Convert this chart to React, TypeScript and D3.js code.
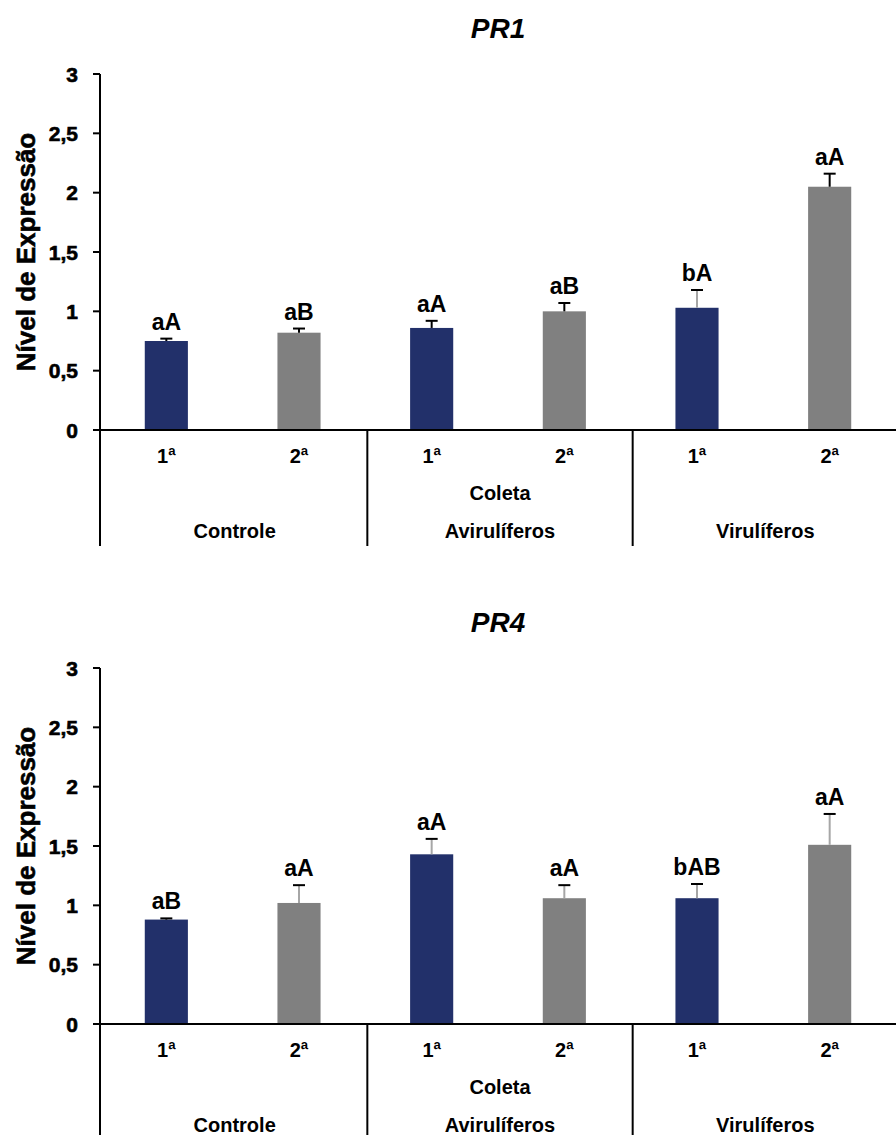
import React from "react";
import * as d3 from "d3";

const categories = ["1ª", "2ª", "1ª", "2ª", "1ª", "2ª"];
const groups = ["Controle", "Avirulíferos", "Virulíferos"];
const axisTitleX = "Coleta";
const axisTitleY = "Nível de Expressão";
const yTicks = [0, 0.5, 1, 1.5, 2, 2.5, 3];

const pr1Values = [0.75, 0.82, 0.86, 1.0, 1.03, 2.05];
const pr1Errors = [0.02, 0.035, 0.06, 0.07, 0.15, 0.11];
const pr1Labels = ["aA", "aB", "aA", "aB", "bA", "aA"];

const pr4Values = [0.88, 1.02, 1.43, 1.06, 1.06, 1.51];
const pr4Errors = [0.01, 0.15, 0.13, 0.11, 0.12, 0.26];
const pr4Labels = ["aB", "aA", "aA", "aA", "bAB", "aA"];

const barColors = ["#22306a", "#808080"];
const pr1StemColors = ["#000", "#000", "#000", "#000", "#a6a6a6", "#000"];
const pr4StemColors = ["#000", "#a6a6a6", "#a6a6a6", "#a6a6a6", "#a6a6a6", "#a6a6a6"];

const FONT = "'Liberation Sans', Arial, sans-serif";

type PanelProps = {
  title: string;
  values: number[];
  errors: number[];
  labels: string[];
  stemColors: string[];
  dy: number;
};

function Panel({ title, values, errors, labels, stemColors, dy }: PanelProps) {
  const x0 = 100;
  const x1 = 896;
  const yBase = 430;
  const yTop = 74;
  const y = d3.scaleLinear().domain([0, 3]).range([yBase, yTop]);
  const idx = categories.map((_, i) => String(i));
  const x = d3
    .scaleBand<string>()
    .domain(idx)
    .range([x0, x1])
    .paddingInner(0.675)
    .paddingOuter(0.3375);
  const gx = d3.scaleBand<string>().domain(groups).range([x0, x1]);
  const bottom = 546;

  return (
    <g transform={`translate(0,${dy})`} fontFamily={FONT} fontWeight="bold">
      <text x={498} y={38} textAnchor="middle" fontSize={28} fontStyle="italic">
        {title}
      </text>
      {values.map((v, i) => (
        <rect
          key={"b" + i}
          x={x(String(i))}
          y={y(v)}
          width={x.bandwidth()}
          height={yBase - y(v)}
          fill={barColors[i % 2]}
        />
      ))}
      {values.map((v, i) => {
        const cx = (x(String(i)) as number) + x.bandwidth() / 2;
        return (
          <g key={"e" + i}>
            <line x1={cx} x2={cx} y1={y(v)} y2={y(v + errors[i])} stroke={stemColors[i]} strokeWidth={2} />
            <line x1={cx - 6} x2={cx + 6} y1={y(v + errors[i])} y2={y(v + errors[i])} stroke="#000" strokeWidth={2} />
          </g>
        );
      })}
      {values.map((v, i) => {
        const cx = (x(String(i)) as number) + x.bandwidth() / 2;
        return (
          <text key={"l" + i} x={cx} y={y(v + errors[i]) - 9} textAnchor="middle" fontSize={23}>
            {labels[i]}
          </text>
        );
      })}
      <line x1={x0} x2={x0} y1={yTop} y2={bottom} stroke="#000" strokeWidth={2} />
      {yTicks.map((t) => (
        <g key={"t" + t}>
          <line x1={x0 - 7} x2={x0} y1={y(t)} y2={y(t)} stroke="#000" strokeWidth={2} />
          <text x={78} y={y(t) + 7.5} textAnchor="end" fontSize={21} stroke="#000" strokeWidth={0.6}>
            {String(t).replace(".", ",")}
          </text>
        </g>
      ))}
      <text
        transform={`translate(35,${(yBase + yTop) / 2}) rotate(-90)`}
        textAnchor="middle"
        fontSize={26}
        stroke="#000"
        strokeWidth={0.6}
      >
        {axisTitleY}
      </text>
      <line x1={x0 - 7} x2={896} y1={yBase} y2={yBase} stroke="#000" strokeWidth={2} />
      {groups.slice(1).map((g) => (
        <line key={"s" + g} x1={(gx(g) as number) + 2} x2={(gx(g) as number) + 2} y1={yBase} y2={bottom} stroke="#000" strokeWidth={2} />
      ))}
      {categories.map((c, i) => (
        <text key={"c" + i} x={(x(String(i)) as number) + x.bandwidth() / 2} y={463} textAnchor="middle" fontSize={20}>
          {c}
        </text>
      ))}
      <text x={500} y={500} textAnchor="middle" fontSize={20}>
        {axisTitleX}
      </text>
      {groups.map((g) => (
        <text key={"g" + g} x={(gx(g) as number) + gx.bandwidth() / 2 + 2} y={538} textAnchor="middle" fontSize={20}>
          {g}
        </text>
      ))}
    </g>
  );
}

export default function App() {
  return (
    <svg
      width={896}
      height={1135}
      viewBox="0 0 896 1135"
      style={{ position: "absolute", left: 0, top: 0, background: "#fff" }}
    >
      <rect width={896} height={1135} fill="#fff" />
      <Panel title="PR1" values={pr1Values} errors={pr1Errors} labels={pr1Labels} stemColors={pr1StemColors} dy={0} />
      <Panel title="PR4" values={pr4Values} errors={pr4Errors} labels={pr4Labels} stemColors={pr4StemColors} dy={594} />
    </svg>
  );
}
